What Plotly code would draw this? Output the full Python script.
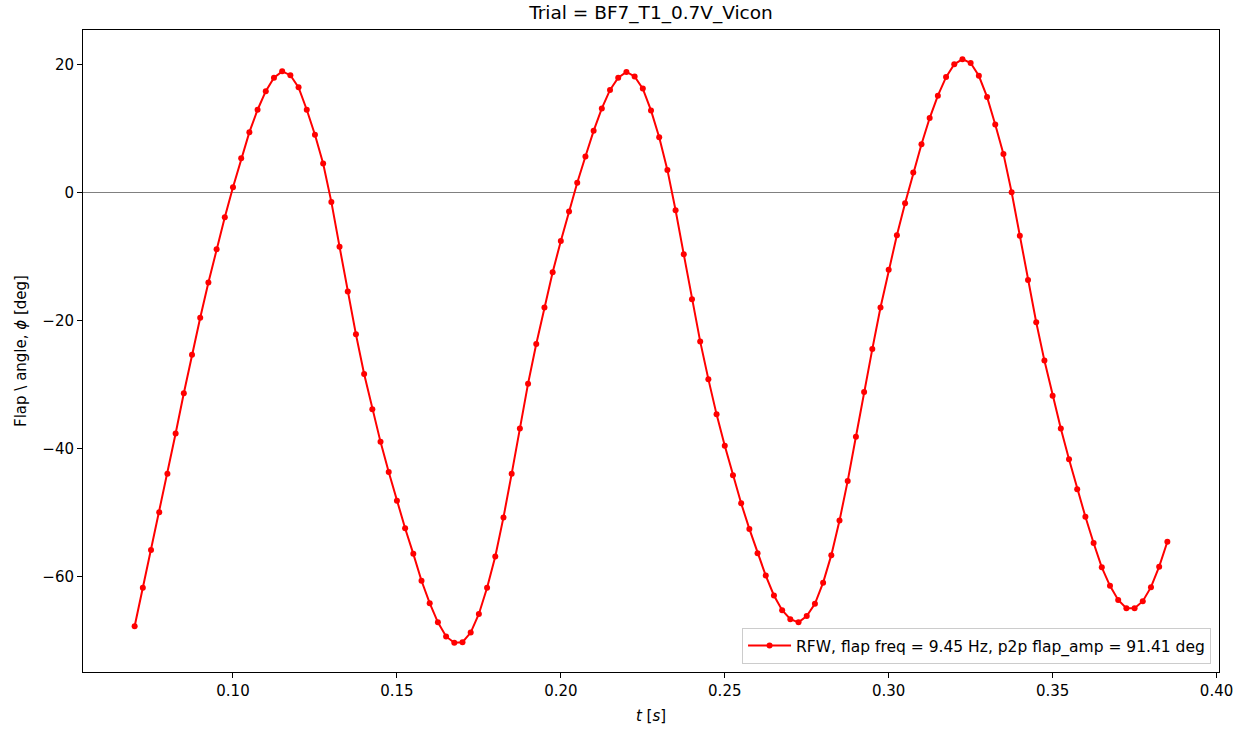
import numpy as np
import plotly.graph_objects as go

t_start = 0.07
t_step = 0.0025

phi_deg = [
    -67.7, -61.7, -55.8, -49.9, -43.9, -37.6, -31.3, -25.3, -19.5, -14.0,
    -8.8, -3.8, 0.9, 5.4, 9.5, 13.0, 15.9, 18.0, 19.0, 18.4,
    16.5, 13.0, 9.1, 4.6, -1.4, -8.4, -15.4, -22.1, -28.3, -33.8,
    -38.9, -43.6, -48.1, -52.4, -56.4, -60.6, -64.1, -67.1, -69.3, -70.3,
    -70.2, -68.7, -65.8, -61.7, -56.8, -50.7, -43.9, -36.8, -29.8, -23.6,
    -17.9, -12.4, -7.5, -2.9, 1.6, 5.7, 9.7, 13.2, 16.1, 18.0,
    18.9, 18.2, 16.3, 12.9, 8.7, 3.6, -2.7, -9.6, -16.6, -23.2,
    -29.1, -34.6, -39.5, -44.1, -48.5, -52.5, -56.3, -59.8, -62.9, -65.2,
    -66.6, -67.1, -66.1, -64.2, -60.9, -56.6, -51.2, -45.0, -38.1, -31.1,
    -24.4, -17.9, -12.0, -6.6, -1.6, 3.2, 7.6, 11.7, 15.2, 18.1,
    20.1, 20.9, 20.3, 18.3, 15.0, 10.7, 6.1, 0.1, -6.7, -13.6,
    -20.2, -26.2, -31.7, -36.8, -41.6, -46.3, -50.6, -54.7, -58.5, -61.4,
    -63.6, -64.9, -64.9, -63.8, -61.6, -58.4, -54.5,
]
t_sec = [round(t_start + i * t_step, 4) for i in range(len(phi_deg))]

title_text = "Trial = BF7_T1_0.7V_Vicon"
legend_label = "RFW, flap freq = 9.45 Hz, p2p flap_amp = 91.41 deg"
x_ticks = [0.10, 0.15, 0.20, 0.25, 0.30, 0.35, 0.40]
y_ticks = [-60, -40, -20, 0, 20]

FONT = "DejaVu Sans"
W, H = 1244, 730

fig = go.Figure()
fig.add_trace(go.Scatter(
    x=t_sec, y=phi_deg, mode="lines+markers", name=legend_label,
    line=dict(color="red", width=2),
    marker=dict(color="red", size=6, symbol="circle"),
))

tmin, tmax = min(t_sec), max(t_sec)
ymin, ymax = min(phi_deg), max(phi_deg)
xpad = 0.05 * (tmax - tmin)
ypad = 0.05 * (ymax - ymin)

fig.update_layout(
    width=W, height=H,
    margin=dict(l=83, r=25, t=30, b=58, autoexpand=False),
    paper_bgcolor="white", plot_bgcolor="white",
    font=dict(family=FONT, size=15, color="black"),
    title=dict(text=title_text, x=0.5, xref="paper", xanchor="center",
               y=1 - 13 / H, yref="container", yanchor="middle",
               font=dict(family=FONT, size=18.5, color="black")),
    showlegend=True,
    legend=dict(x=0.993, xanchor="right", y=0.0125, yanchor="bottom",
                bgcolor="rgba(255,255,255,0.8)", bordercolor="#cccccc",
                borderwidth=1, itemwidth=43, font=dict(family=FONT, size=15.5)),
)
fig.update_xaxes(
    automargin=False,
    range=[tmin - xpad, tmax + xpad], tickvals=x_ticks, tickformat=".2f",
    showgrid=False, zeroline=False, showline=True, mirror=True,
    linecolor="black", linewidth=1, ticks="outside", ticklen=5,
    tickcolor="black", tickfont=dict(family=FONT, size=15),
    title=dict(text="<i>t</i> [<i>s</i>]", font=dict(family=FONT, size=15), standoff=11),
)
fig.update_yaxes(
    automargin=False,
    range=[ymin - ypad, ymax + ypad], tickvals=y_ticks,
    showgrid=False, zeroline=True, zerolinecolor="gray", zerolinewidth=1,
    showline=True, mirror=True,
    linecolor="black", linewidth=1, ticks="outside", ticklen=5,
    tickcolor="black", tickfont=dict(family=FONT, size=15),
    title=dict(text="Flap \\ angle, <i>ϕ</i> [deg]", font=dict(family=FONT, size=15), standoff=12),
)

fig.write_html(
    "out.html",
    config={"displayModeBar": False},
    post_script=(
        "var gd=document.getElementById('{plot_id}');"
        "gd.style.position='fixed';gd.style.top='0';gd.style.left='0';"
        "document.body.style.margin='0';"
        "document.documentElement.style.overflow='hidden';"
        "document.body.style.overflow='hidden';"
    ),
)
